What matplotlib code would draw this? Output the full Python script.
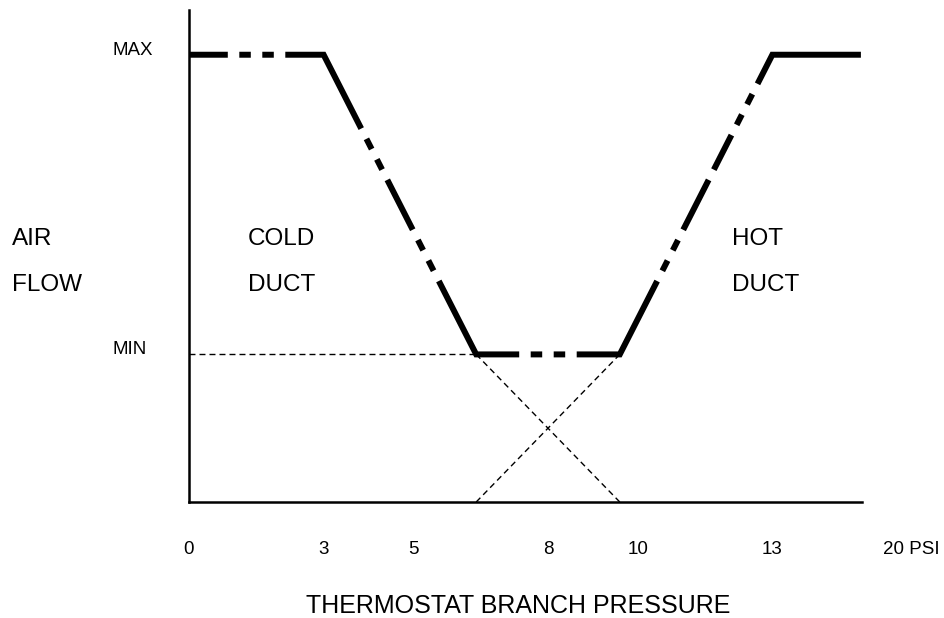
import matplotlib
matplotlib.use('Agg')
from matplotlib import pyplot as plt

plt.rcParams['font.family'] = ['Liberation Sans', 'DejaVu Sans']
plt.rcParams['lines.scale_dashes'] = False

# ===== data =====
flow_max = 1.0
flow_min = 0.33

# damper curve (cold duct falls, hot duct rises)
branch_psi = [0, 3, 6.4, 9.6, 13, 15]
air_flow = [flow_max, flow_max, flow_min, flow_min, flow_max, flow_max]

# thin guide lines
min_line_psi = [0, 6.4]
min_line_flow = [flow_min, flow_min]
cold_ext_psi = [6.4, 9.6]
cold_ext_flow = [flow_min, 0]
hot_ext_psi = [6.4, 9.6]
hot_ext_flow = [0, flow_min]

# axis is schematic: "20 PSI" sits past the end of the drawn axis
tick_pos = [0, 3, 5, 8, 10, 13, 16.1]
tick_labels = ['0', '3', '5', '8', '10', '13', '20 PSI']
flow_ticks = [flow_max, flow_min]
flow_labels = ['MAX', 'MIN']

# ===== styles =====
px = 0.72  # pixel -> point at dpi 100
g = s = 11.5
dash_px = [38.8, g, s, g, s, g,
           121.2, g, s, g, s, g, 56, g, s, g, s, g,
           125.4, g, s, g, s, g,
           125.4, g, s, g, s, g, 56, g, s, g, s, g,
           400, 1]
curve_style = (0, [v * px for v in dash_px])
guide_style = (0, (4.3, 2.9))

fig = plt.figure(figsize=(9.45, 6.18), dpi=100)
ax = fig.add_axes([0.2, 0.1877, 0.7835, 0.7961])

ax.plot(branch_psi, air_flow, color='black', lw=4.3, linestyle=curve_style,
        dash_joinstyle='miter', dash_capstyle='butt', solid_joinstyle='miter')
for xs, ys in [(min_line_psi, min_line_flow), (cold_ext_psi, cold_ext_flow),
               (hot_ext_psi, hot_ext_flow)]:
    ax.plot(xs, ys, color='black', lw=1.0, linestyle=guide_style)

ax.set_xlim(0, 16.5)
ax.set_ylim(0, 1.1)

ax.spines['top'].set_visible(False)
ax.spines['right'].set_visible(False)
ax.spines['left'].set_linewidth(1.8)
ax.spines['bottom'].set_linewidth(1.8)
ax.spines['bottom'].set_bounds(0, 15)

ax.set_xticks(tick_pos)
ax.set_xticklabels(tick_labels, fontsize=13.5)
ax.set_yticks(flow_ticks)
ax.set_yticklabels(flow_labels, fontsize=13.5)
ax.tick_params(axis='x', length=0, pad=37.4)
ax.tick_params(axis='y', length=0, pad=55.4)
for lab in ax.get_xticklabels():
    lab.set_va('baseline')
for lab in ax.get_yticklabels():
    lab.set_va('baseline')
    lab.set_ha('left')

# region / axis words
ax.text(1.31, 0.575, 'COLD', fontsize=17.5, va='baseline')
ax.text(1.31, 0.472, 'DUCT', fontsize=17.5, va='baseline')
ax.text(12.10, 0.575, 'HOT', fontsize=17.5, va='baseline')
ax.text(12.10, 0.472, 'DUCT', fontsize=17.5, va='baseline')
ax.text(-3.94, 0.575, 'AIR', fontsize=17.5, va='baseline')
ax.text(-3.94, 0.472, 'FLOW', fontsize=17.5, va='baseline')

ax.set_xlabel('THERMOSTAT BRANCH PRESSURE', fontsize=18, va='baseline')
ax.xaxis.set_label_coords(0.4446, -0.2256)

fig.savefig('out.png', dpi=100)
